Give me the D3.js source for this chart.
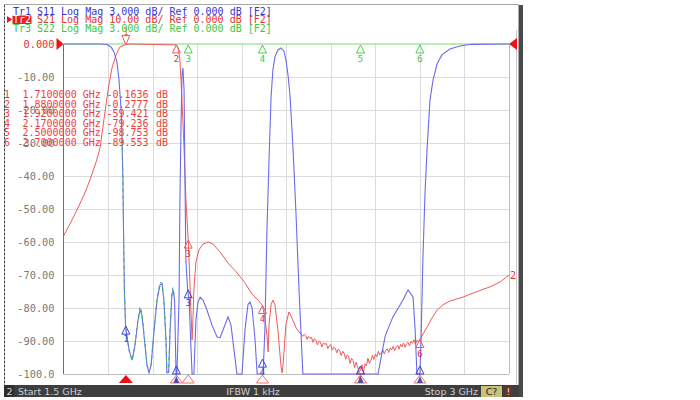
<!DOCTYPE html>
<html><head><meta charset="utf-8">
<script src="https://cdn.jsdelivr.net/npm/d3@7"></script>
<style>html,body{margin:0;padding:0;background:#fff;}svg{display:block;}</style>
</head><body>
<svg id="c" width="700" height="400"></svg>
<script>
// ---------- DATA ----------
const startGHz = 1.5, stopGHz = 3.0;
const yTicks = [0,-10,-20,-30,-40,-50,-60,-70,-80,-90,-100];
const yTickLabels = ["0.000","-10.00","-20.00","-30.00","-40.00","-50.00","-60.00","-70.00","-80.00","-90.00","-100.0"];
const headerLines = [
  {tr:"Tr1", text:"S11 Log Mag 3.000 dB/ Ref 0.000 dB [F2]"},
  {tr:"Tr2", text:"S21 Log Mag 10.00 dB/ Ref 0.000 dB [F2]"},
  {tr:"Tr3", text:"S22 Log Mag 3.000 dB/ Ref 0.000 dB [F2]"}
];
const markerNums = ["1","2","3","4","5","6"];
const markerFreqs = [1.71, 1.88, 1.92, 2.17, 2.5, 2.7];
const markerS21 = [-0.1636, -0.2777, -59.421, -79.236, -98.753, -89.553];
const markerS11 = [-85.5, -100, -74.5, -95.5, -100, -100];
const markerFreqText = ["1.7100000","1.8800000","1.9200000","2.1700000","2.5000000","2.7000000"];
const markerValText = ["-0.1636","-0.2777","-59.421","-79.236","-98.753","-89.553"];

// S11 (Tr1)
const s11Freq = [1.500,1.623,1.646,1.660,1.670,1.680,1.687,1.694,1.697,1.700,1.702,1.705,1.709,1.714,1.721,1.731,1.741,1.751,1.758,1.764,1.771,1.781,1.788,1.795,1.805,1.815,1.825,1.832,1.838,1.845,1.848,1.854,1.859,1.865,1.869,1.874,1.879,1.882,1.889,1.892,1.896,1.899,1.902,1.906,1.909,1.912,1.918,1.923,1.928,1.933,1.939,1.946,1.953,1.960,1.970,1.983,2.000,2.017,2.027,2.040,2.054,2.064,2.074,2.084,2.101,2.111,2.121,2.128,2.135,2.145,2.152,2.165,2.172,2.178,2.185,2.192,2.199,2.205,2.212,2.222,2.232,2.242,2.249,2.256,2.263,2.273,2.283,2.293,2.306,2.559,2.583,2.609,2.643,2.660,2.677,2.684,2.690,2.700,2.704,2.710,2.717,2.724,2.734,2.744,2.758,2.774,2.801,2.835,2.875,3.000];
const s11dB   = [0,0,-0.15,-0.9,-2.4,-5.5,-11,-20,-29,-41,-56,-74.5,-85.5,-89,-92.7,-95.8,-91.2,-83.6,-80.6,-82.1,-88.2,-97.3,-99.6,-97.3,-86.7,-77.6,-73,-72.7,-77.6,-89.7,-99.6,-99.6,-86.7,-76,-74.5,-77.6,-100,-100,-77.6,-47,-23,-9.4,-7.3,-14,-41,-65.5,-74.5,-77.6,-89.7,-100,-100,-83.6,-78.2,-76.7,-77.6,-80.6,-85.2,-88.8,-89,-86,-82.7,-85.2,-92.7,-100,-100,-86.7,-79,-78.2,-80,-89.7,-100,-100,-100,-86.7,-56.4,-35,-16,-7.9,-3.9,-1.8,-1.2,-2.1,-4.8,-9.4,-16,-32,-51.8,-74.5,-100,-100,-88.5,-82.7,-77.6,-74.5,-76.7,-86.7,-100,-100,-89.4,-65.5,-45.8,-32,-17,-11,-6,-3.3,-1.5,-0.6,-0.1,0];

// S21 (Tr2)
const s21Freq = [1.500,1.522,1.545,1.569,1.589,1.609,1.623,1.636,1.650,1.663,1.677,1.690,1.710,1.724,1.880,1.886,1.892,1.899,1.906,1.912,1.920,1.924,1.929,1.933,1.936,1.939,1.946,1.956,1.970,1.987,2.003,2.027,2.054,2.081,2.108,2.135,2.155,2.170,2.178,2.185,2.189,2.192,2.199,2.205,2.212,2.222,2.232,2.236,2.239,2.249,2.259,2.269,2.283,2.296,
  2.300,2.305,2.310,2.315,2.320,2.325,2.330,2.335,2.340,2.345,2.350,2.355,2.360,2.365,2.370,2.375,2.380,2.385,2.390,2.395,
  2.400,2.405,2.410,2.415,2.420,2.425,2.430,2.435,2.440,2.445,2.450,2.455,2.460,2.465,2.470,2.475,2.480,2.485,2.490,2.495,
  2.500,2.505,2.510,2.515,2.520,2.525,2.530,2.535,2.540,2.545,2.550,2.555,2.560,2.565,2.570,2.575,2.580,2.585,2.590,2.595,
  2.600,2.605,2.610,2.615,2.620,2.625,2.630,2.635,2.640,2.645,2.650,2.655,2.660,2.665,2.670,2.675,2.680,2.685,2.690,2.695,2.700,
  2.724,2.741,2.758,2.778,2.801,2.845,2.886,2.936,2.970,3.000];
const s21dB = [-58.2,-54.5,-50.3,-45.8,-41.2,-36,-31.5,-23,-14,-7.3,-3.3,-0.9,-0.1636,0,-0.2777,-1.2,-4.8,-17,-32,-47,-59.421,-68.5,-80.6,-89.7,-83,-74.5,-66,-62.4,-60.6,-60,-60.6,-63,-66.4,-69,-72,-75.8,-77.6,-79.236,-83,-88.2,-93.3,-85,-79,-77.6,-79,-86.7,-97.3,-99.7,-97.5,-85,-81.2,-83,-86,-87.6,
  -87.8,-88.6,-88.0,-88.3,-89.5,-88.6,-89.2,-88.9,-90.4,-89.3,-89.8,-91.2,-90.0,-90.3,-91.8,-90.6,-91.0,-90.7,-92.3,-91.4,
  -91.1,-92.8,-91.9,-92.2,-93.6,-92.4,-93.0,-94.4,-93.1,-93.8,-95.5,-94.2,-94.6,-96.8,-95.3,-95.9,-98.1,-96.4,-97.7,-99.6,
  -98.753,-97.2,-99.5,-96.9,-97.5,-95.2,-96.8,-95.9,-94.3,-95.6,-94.0,-94.8,-93.1,-94.2,-93.6,-92.6,-93.9,-92.8,-92.4,-93.5,
  -92.1,-92.7,-91.6,-92.9,-91.8,-91.3,-92.5,-91.0,-91.7,-90.6,-91.9,-90.8,-90.4,-91.5,-90.1,-90.7,-89.6,-90.9,-89.8,-90.2,-89.553,
  -85.8,-83,-80.6,-79,-77.9,-76.7,-75.2,-73.6,-72.1,-70];

// S22 (Tr3)
const s22Freq = [1.5, 3.0];
const s22dB = [0, 0];
const s22LowFreq = [1.697,1.700,1.702,1.705,1.709,1.714,1.721,1.731,1.741,1.751,1.758,1.764,1.771,1.781,1.788,1.795,1.805,1.815,1.825,1.832,1.838,1.845,1.848,1.854,1.859,1.865,1.869,1.874];
const s22LowdB   = [-29,-41,-56,-74.5,-85.5,-89,-93,-96,-91,-83,-79.5,-81.5,-88,-97,-99.4,-97,-86.5,-77,-72.2,-72.5,-77.5,-89.5,-99.4,-99.4,-86,-75,-73.8,-77];

const statusTexts = {start:"Start 1.5 GHz", ifbw:"IFBW 1 kHz", stop:"Stop 3 GHz", ch:"C?", num:"2"};

// ---------- DRAW ----------
const svg = d3.select("#c");
const X0 = 63.5, X1 = 509, Y0 = 44, Y1 = 374;
const x = d3.scaleLinear().domain([startGHz, stopGHz]).range([X0, X1]);
const y = d3.scaleLinear().domain([0, -100]).range([Y0, Y1]);

const MONO = "'DejaVu Sans Mono', 'Liberation Mono', monospace";
const BLUE = "#6a6af0", RED = "#ef5a5a", GREEN = "#6ede6e";
const HBLUE = "#3434d8", HRED = "#e23232", HGREEN = "#3cc83c";

// frame
svg.append("rect").attr("x",4.5).attr("y",4.5).attr("width",514).attr("height",381).attr("fill","#fff").attr("stroke","#a8a8a8");
svg.append("line").attr("x1",4.5).attr("x2",4.5).attr("y1",5).attr("y2",386).attr("stroke","#404040").attr("stroke-dasharray","2,2");
svg.append("rect").attr("x",519).attr("y",5).attr("width",4).attr("height",392).attr("fill","#4a4a4a");
svg.append("line").attr("x1",516.5).attr("x2",516.5).attr("y1",30).attr("y2",386).attr("stroke","#c8c8c8");

// grid
const grid = svg.append("g");
grid.selectAll(".vg").data(d3.range(1,10)).join("line")
  .attr("x1", k => Math.round(x(startGHz + k*(stopGHz-startGHz)/10))+0.5)
  .attr("x2", k => Math.round(x(startGHz + k*(stopGHz-startGHz)/10))+0.5)
  .attr("y1", Y0).attr("y2", Y1).attr("stroke","#dcdcdc");
grid.selectAll(".hg").data(yTicks.slice(1,-1)).join("line")
  .attr("x1", X0).attr("x2", X1)
  .attr("y1", d => Math.round(y(d))+0.5).attr("y2", d => Math.round(y(d))+0.5).attr("stroke","#dcdcdc");
// plot border
svg.append("line").attr("x1",X0).attr("x2",X0).attr("y1",Y0).attr("y2",Y1).attr("stroke","#6e6e6e");
svg.append("line").attr("x1",X0).attr("x2",X1).attr("y1",Y1+0.5).attr("y2",Y1+0.5).attr("stroke","#bdbdbd");
svg.append("line").attr("x1",X1+0.5).attr("x2",X1+0.5).attr("y1",Y0).attr("y2",Y1).attr("stroke","#bdbdbd");

// y axis labels
const yAxis = d3.axisLeft(y).tickValues(yTicks).tickFormat((d,i) => yTickLabels[i]).tickSize(0).tickPadding(9);
const ga = svg.append("g").attr("transform",`translate(${X0},0)`).call(yAxis);
ga.select(".domain").remove();
ga.selectAll("text").attr("font-family",MONO).attr("font-size","10.3px")
  .attr("fill",(d,i) => i===0 ? HRED : "#7a7a7a");
// reference triangles
svg.append("path").attr("d",`M${X0-7},${Y0-6}L${X0},${Y0}L${X0-7},${Y0+6}Z`).attr("fill","#f01010");
svg.append("path").attr("d",`M${X1+8},${Y0-6}L${X1},${Y0}L${X1+8},${Y0+6}Z`).attr("fill","#f01010");

// clip
svg.append("clipPath").attr("id","pc").append("rect").attr("x",X0).attr("y",Y0-2).attr("width",X1-X0+1).attr("height",Y1-Y0+3);
const plot = svg.append("g").attr("clip-path","url(#pc)");
const line = d3.line().x(d => x(d[0])).y(d => y(d[1]));
const zipA = (f, v) => f.map((ff,i) => [ff, v[i]]);

plot.append("path").attr("d", line(zipA(s22Freq,s22dB))).attr("fill","none").attr("stroke",GREEN).attr("stroke-width",1.2);
plot.append("path").attr("d", line(zipA(s21Freq,s21dB))).attr("fill","none").attr("stroke",RED).attr("stroke-width",1);
plot.append("path").attr("d", line(zipA(s11Freq,s11dB))).attr("fill","none").attr("stroke",BLUE).attr("stroke-width",1.1);
plot.append("path").attr("d", line(zipA(s22LowFreq,s22LowdB))).attr("fill","none").attr("stroke","#3cb86a").attr("stroke-width",1.1).attr("stroke-dasharray","3,4");

// markers on traces
const mk = svg.append("g").attr("font-family",MONO).attr("font-size","9px").attr("text-anchor","middle");
function upTri(g, cx, cy, col){
  g.append("path").attr("d",`M${cx},${cy}L${cx-4},${cy+8}L${cx+4},${cy+8}Z`).attr("fill","none").attr("stroke",col);
}
function downTri(g, cx, cy, col){
  g.append("path").attr("d",`M${cx},${cy}L${cx-4},${cy-9}L${cx+4},${cy-9}Z`).attr("fill","none").attr("stroke",col);
}
// S21 markers
markerFreqs.forEach((f,i) => {
  const cx = x(f), cy = y(markerS21[i]);
  if (i===0){ downTri(mk,cx,cy,RED); mk.append("text").attr("x",cx).attr("y",cy-10).attr("fill","#d08020").text(markerNums[i]); }
  else { upTri(mk,cx,Math.min(cy,Y1-8),RED); mk.append("text").attr("x",cx).attr("y",Math.min(cy,Y1-8)+17).attr("fill",HRED).text(markerNums[i]); }
});
// S22 markers (visible ones on 0 dB line)
markerFreqs.forEach((f,i) => {
  if (i<2) return;
  const cx = x(f), cy = y(0);
  upTri(mk,cx,cy+1,"#4ccf4c");
  mk.append("text").attr("x",cx).attr("y",cy+18).attr("fill","#3cc83c").text(markerNums[i]);
});
// S11 markers
markerFreqs.forEach((f,i) => {
  const cx = x(f), cy = Math.min(y(markerS11[i]), Y1-8);
  upTri(mk,cx,cy,"#3c3cdc");
  if (i!==1 && i<4) mk.append("text").attr("x",cx).attr("y",cy+16).attr("fill","#3c3cdc").text(markerNums[i]);
});
// trace end label
svg.append("text").attr("x",x(stopGHz)+1).attr("y",y(s21dB[s21dB.length-1])+4).attr("font-family",MONO).attr("font-size","10px").attr("fill",HRED).text("2");

// bottom marker indicators
const bi = svg.append("g");
markerFreqs.forEach((f,i) => {
  const cx = x(f);
  if (i===0) bi.append("path").attr("d",`M${cx},${Y1+1}L${cx-7},${Y1+9}L${cx+7},${Y1+9}Z`).attr("fill","#f01010");
  else {
    bi.append("path").attr("d",`M${cx},${Y1+1}L${cx-6},${Y1+9}L${cx+6},${Y1+9}Z`).attr("fill","none").attr("stroke","#f07070");
    if (i===1||i===4||i===5) bi.append("path").attr("d",`M${cx},${Y1+2}L${cx-3},${Y1+9}L${cx+3},${Y1+9}Z`).attr("fill","#5050a0");
  }
});

// header
const hdr = svg.append("g").attr("font-family",MONO).attr("font-size","10px");
const hcols = [HBLUE, HRED, HGREEN];
headerLines.forEach((h,i) => {
  const by = 14.5 + i*8.5;
  if (i===1){
    hdr.append("path").attr("d",`M7,${by-7}L12,${by-3.5}L7,${by}Z`).attr("fill","#f01010");
    hdr.append("rect").attr("x",12.5).attr("y",by-7.5).attr("width",19).attr("height",8.5).attr("fill","#e82020");
    hdr.append("text").attr("x",13).attr("y",by).attr("fill","#fff").text(h.tr);
  } else {
    hdr.append("text").attr("x",13).attr("y",by).attr("fill",hcols[i]).text(h.tr);
  }
  hdr.append("text").attr("x",37).attr("y",by).attr("fill",hcols[i]).text(h.text);
});

// marker table
const mt = svg.append("g").attr("font-family",MONO).attr("font-size","10px").attr("fill","#ea3e3e");
markerNums.forEach((n,i) => {
  const by = 98 + i*9.6;
  mt.append("text").attr("x",4).attr("y",by).text(n);
  mt.append("text").attr("x",22.5).attr("y",by).text(markerFreqText[i] + " GHz");
  mt.append("text").attr("x",106.5).attr("y",by).text(markerValText[i]);
  mt.append("text").attr("x",156).attr("y",by).text("dB");
});

// status bar
const sb = svg.append("g").attr("font-family","'DejaVu Sans', sans-serif").attr("font-size","9.5px");
sb.append("rect").attr("x",4).attr("y",385).attr("width",515).attr("height",12).attr("fill","#3e3e3e");
sb.append("rect").attr("x",4).attr("y",385).attr("width",10).attr("height",12).attr("fill","#2e2e2e");
sb.append("text").attr("x",6.5).attr("y",395).attr("fill","#d8d8d8").text(statusTexts.num);
sb.append("text").attr("x",18).attr("y",395).attr("fill","#cfcfcf").text(statusTexts.start);
sb.append("text").attr("x",253).attr("y",395).attr("text-anchor","middle").attr("fill","#cfcfcf").text(statusTexts.ifbw);
sb.append("text").attr("x",478).attr("y",395).attr("text-anchor","end").attr("fill","#cfcfcf").text(statusTexts.stop);
sb.append("rect").attr("x",481).attr("y",386).attr("width",21).attr("height",11).attr("fill","#c9c27a");
sb.append("text").attr("x",491.5).attr("y",395).attr("text-anchor","middle").attr("fill","#202020").text(statusTexts.ch);
sb.append("rect").attr("x",505).attr("y",386).attr("width",7).attr("height",11).attr("fill","#6a3030");
sb.append("text").attr("x",508.5).attr("y",395).attr("text-anchor","middle").attr("fill","#e0e0e0").text("!");
</script>
</body></html>
